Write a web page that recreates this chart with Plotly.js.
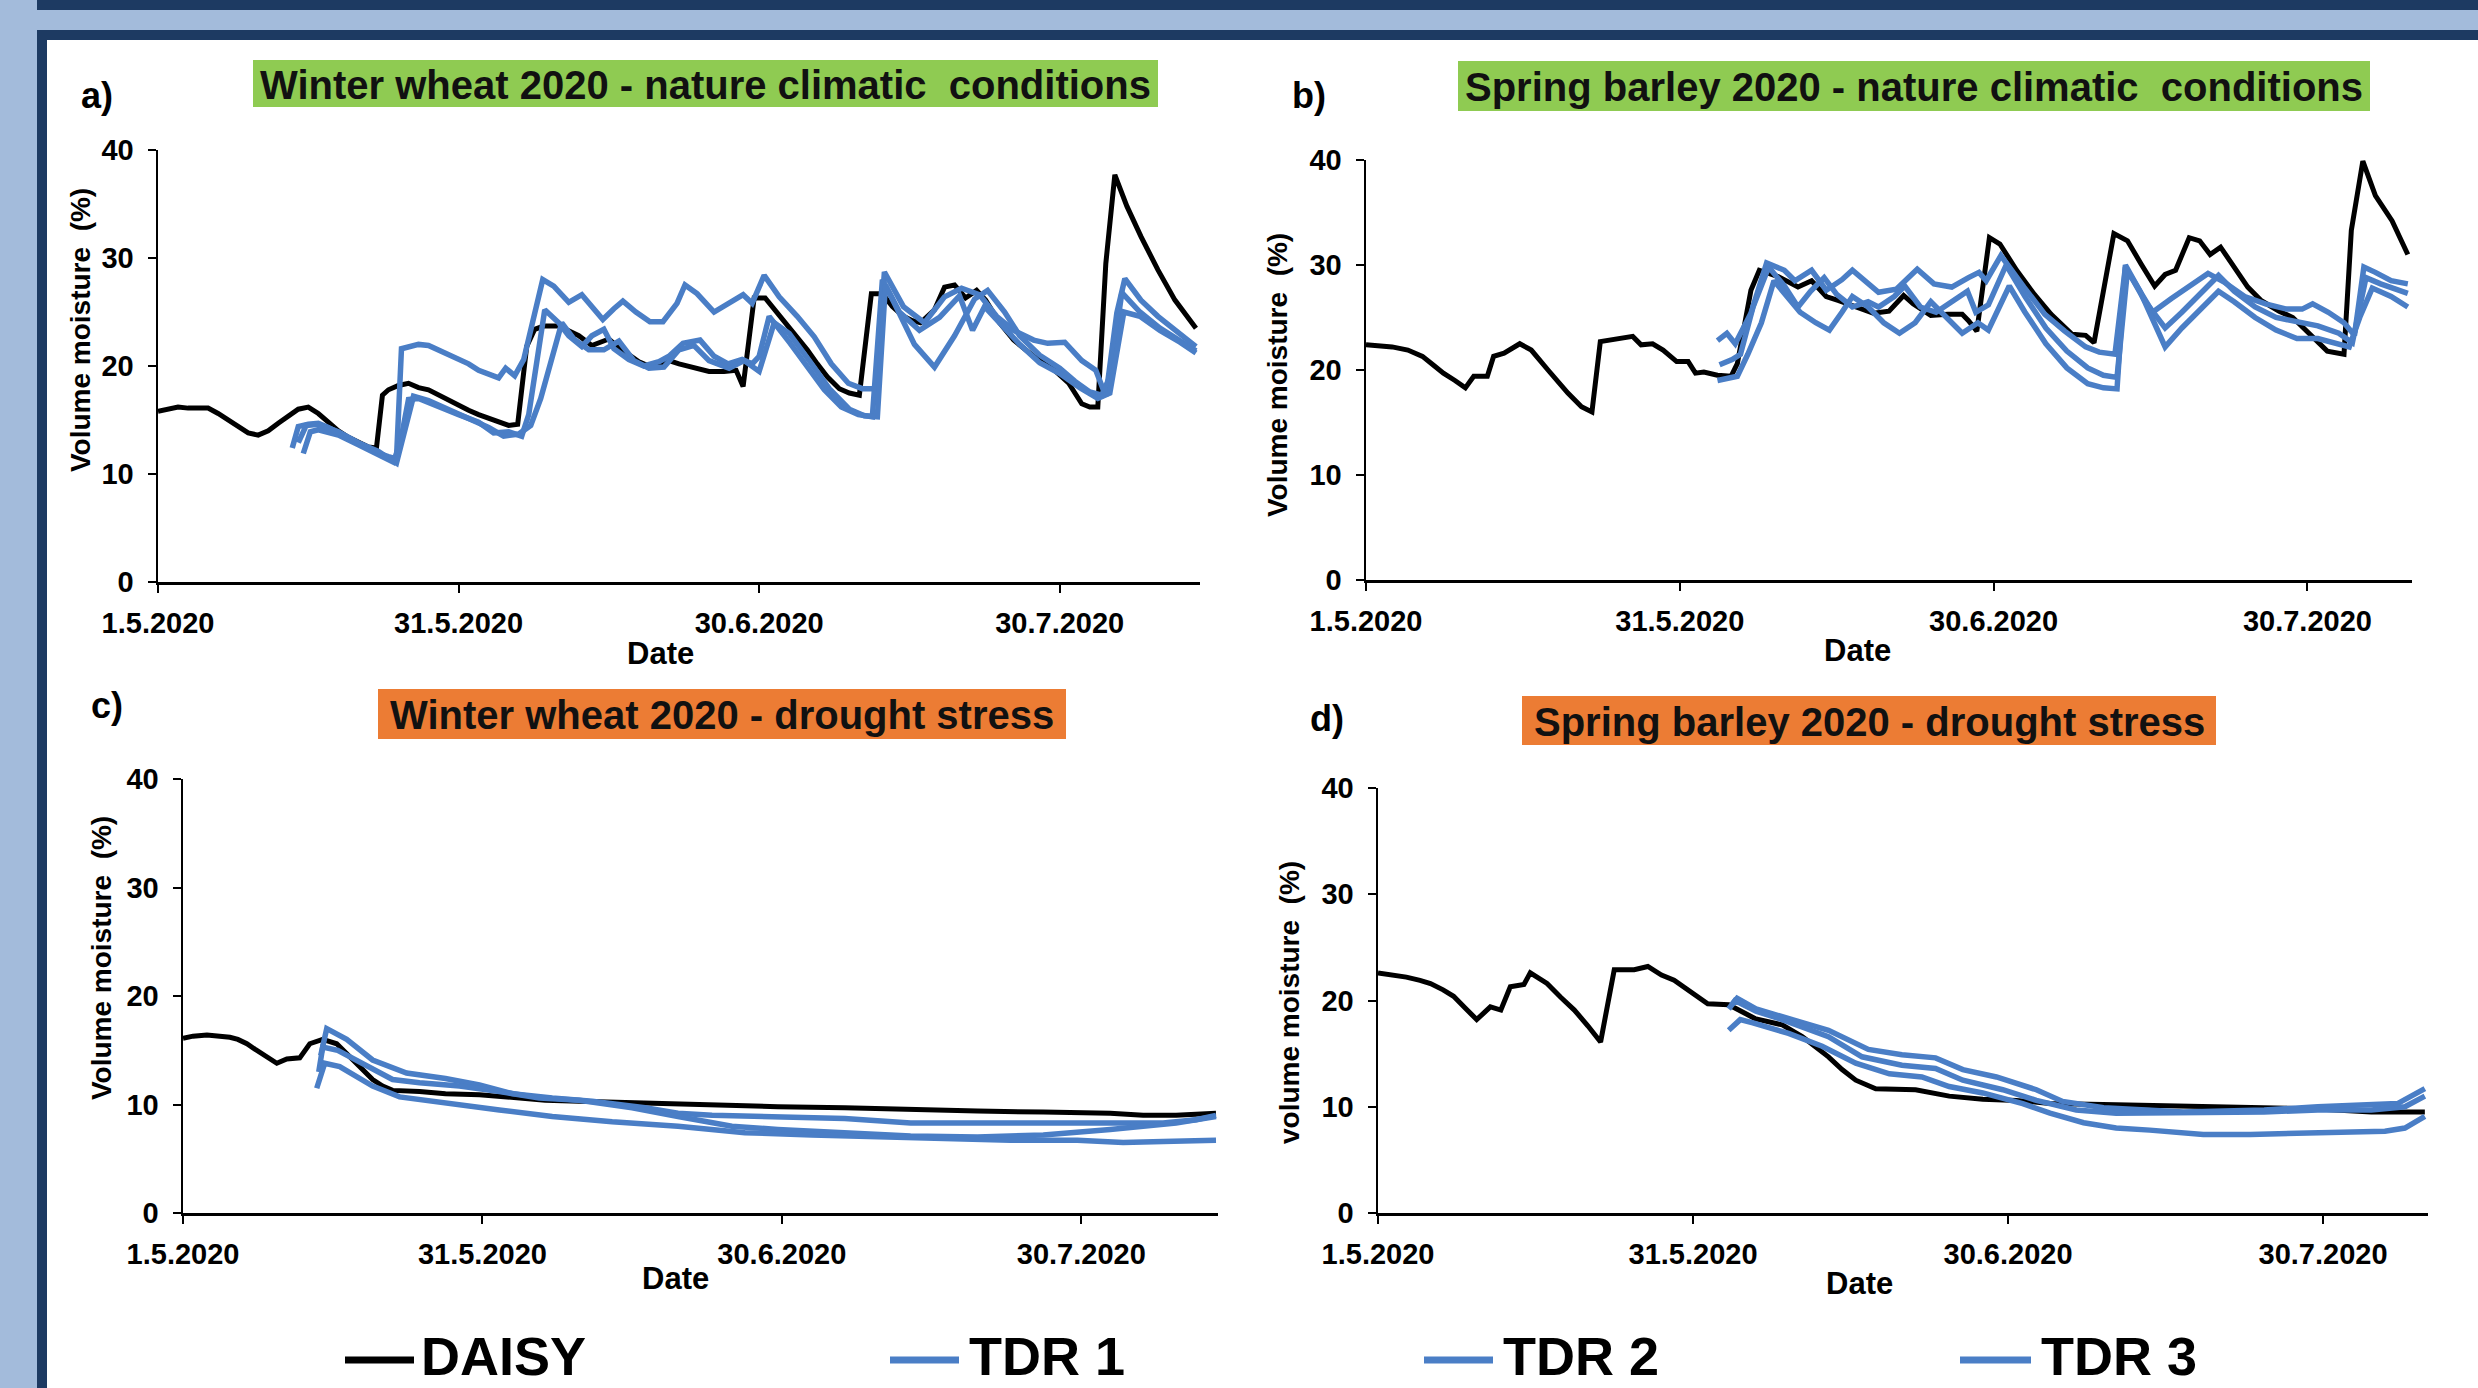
<!DOCTYPE html>
<html>
<head>
<meta charset="utf-8">
<script src="https://cdn.plot.ly/plotly-3.0.1.min.js"></script>
<style>
html,body{margin:0;padding:0;background:#a3bbdb;overflow:hidden;}
#chart{width:2478px;height:1388px;}
</style>
</head>
<body>
<div id="chart"></div>
<script>
// ---------------- DATA ----------------
// x = days since 1.5.2020, y = volume moisture (%)
const tickVals = [0, 30, 60, 90];
const tickText = ['1.5.2020', '31.5.2020', '30.6.2020', '30.7.2020'];
const seriesNames = ['DAISY', 'TDR 1', 'TDR 2', 'TDR 3'];
const seriesColors = ['#000000', '#4a7ec6', '#4a7ec6', '#4a7ec6'];
const panelTitles = ['Winter wheat 2020 - nature climatic  conditions',
                     'Spring barley 2020 - nature climatic  conditions',
                     'Winter wheat 2020 - drought stress',
                     'Spring barley 2020 - drought stress'];
const panelLetters = ['a)', 'b)', 'c)', 'd)'];
const yTitles = ['Volume moisture  (%)', 'Volume moisture  (%)', 'Volume moisture  (%)', 'volume moisture  (%)'];
const xTitle = 'Date';

// a) Winter wheat - nature climatic conditions
const aDaisy = [[0,15.8],[1,16.0],[2,16.2],[3,16.1],[4,16.1],[5,16.1],[6,15.6],[7,15.0],[8,14.4],[9,13.8],[10,13.6],[11,14.0],[12,14.7],[13,15.4],[14,16.0],[15,16.2],[16,15.6],[17,14.8],[18,14.0],[19,13.4],[20,12.9],[21,12.5],[21.8,12.4],[22.4,17.3],[23,17.8],[24,18.2],[25,18.4],[26,18.0],[27,17.8],[28,17.3],[29,16.8],[30,16.3],[31,15.9],[32,15.5],[33,15.2],[34,14.8],[35,14.5],[35.9,14.6],[36.8,21.8],[37.6,23.4],[38.5,23.7],[40,23.7],[41,23.2],[42,22.8],[43.3,21.9],[44.3,22.2],[45,22.5],[46,21.7],[47,21.0],[48,20.4],[49,20.0],[50,20.2],[51,20.5],[52,20.2],[53,20.0],[54,19.7],[55,19.5],[56.5,19.5],[57.7,19.6],[58.4,18.1],[59.5,26.3],[60.6,26.3],[61.5,25.3],[62.7,24.0],[63.8,22.7],[64.8,21.5],[65.8,20.2],[66.8,19.0],[68,17.9],[69,17.5],[70,17.3],[71.2,26.7],[72.3,26.7],[73.3,25.5],[74.4,24.6],[75.3,24.2],[76.1,24.0],[77.5,25.2],[78.5,27.3],[79.5,27.5],[80.6,26.3],[81.7,27.0],[82.6,26.1],[84,24.0],[85.4,22.4],[86.4,21.6],[87.4,20.9],[88.5,20.2],[89.5,19.6],[90.9,18.4],[92.2,16.5],[93,16.2],[93.8,16.2],[94.6,29.5],[95.5,37.7],[96.7,34.8],[98.1,32.0],[99.8,28.9],[101.5,26.1],[103.6,23.5]];
const aTdr1 = [[13.4,12.4],[14.0,14.4],[15,14.6],[16,14.7],[17,14.3],[18,13.8],[19,13.3],[20,12.8],[21,12.3],[22,11.9],[23,11.6],[23.8,11.4],[24.3,21.6],[25,21.8],[26,22.0],[27,21.9],[28,21.5],[29,21.1],[30,20.7],[31,20.2],[32,19.6],[33,19.3],[34,18.9],[34.7,19.8],[35.6,19.1],[36.5,20.6],[38.4,28.0],[39.5,27.4],[41,25.9],[42.3,26.6],[44.4,24.3],[45.5,25.3],[46.4,26.0],[47.7,25.0],[49.1,24.1],[50.4,24.1],[51.8,25.8],[52.6,27.5],[53.8,26.7],[55.5,25.0],[56.9,25.8],[58.4,26.6],[59.3,25.8],[60.5,28.4],[62,26.4],[63.8,24.6],[65.5,22.7],[67.2,20.2],[68.9,18.4],[70.3,17.9],[71.7,17.9],[72.5,28.7],[74.4,25.5],[76.5,24.0],[78.5,26.4],[80.2,27.2],[82,26.6],[83.7,24.6],[85.4,23.3],[87.4,22.4],[88.8,22.1],[90.5,22.2],[92.2,20.5],[93.6,19.6],[94.6,17.2],[95.7,24.9],[96.5,28.1],[98.1,26.1],[99.8,24.6],[101.5,23.3],[103.6,21.8]];
const aTdr2 = [[14.5,11.9],[15.2,13.9],[16,14.1],[17,13.9],[18,13.6],[20,12.7],[22,11.8],[23.5,11.1],[24.2,13.0],[25,16.9],[26,17.0],[27,16.6],[28,16.2],[30,15.5],[32,14.8],[33.5,13.8],[35,13.9],[36.3,13.5],[37,15.5],[38.6,25.2],[40,24.0],[41,22.8],[42.3,21.8],[43.3,22.8],[44.5,23.4],[45.5,21.6],[47,20.6],[48.5,20.0],[50,20.4],[51,20.9],[52.4,22.1],[54.1,22.4],[55.5,20.9],[56.9,20.2],[58.3,20.6],[59.3,20.2],[60,20.9],[61,24.6],[63.1,22.1],[64.8,19.9],[66.5,17.8],[68.2,16.2],[69.9,15.5],[71.3,15.3],[72.3,28.0],[73.5,25.8],[75.5,22.0],[77.5,19.9],[79.5,22.8],[81.5,26.2],[82.8,27.0],[84.5,25.0],[86,22.8],[88,21.0],[90,19.8],[91.5,18.6],[93,17.6],[94.2,17.3],[95,19.0],[96.2,26.8],[98,25.0],[100,23.5],[102,22.4],[103.6,21.4]];
const aTdr3 = [[14.0,12.9],[14.8,14.5],[16,14.6],[18,13.9],[20,12.9],[22,12.1],[23.8,11.0],[24.8,14.5],[25.5,17.2],[27,16.8],[29,16.0],[31,15.2],[33,14.3],[34.5,13.5],[36,13.7],[37.2,14.5],[38.2,17.0],[40.3,24.0],[41.5,22.5],[43,21.5],[44.5,21.5],[46,22.3],[47.5,20.5],[49,19.8],[50.5,19.9],[52,21.5],[53.5,21.9],[55,20.5],[57,19.8],[58.5,20.5],[60,19.5],[61.5,24.0],[63,23.0],[65,20.5],[67,17.9],[69,16.0],[70.5,15.4],[71.8,15.3],[72.6,27.5],[74,25.0],[76,23.3],[78,24.5],[80,26.5],[81.3,23.3],[82.5,25.5],[84,24.0],[86,22.0],[88,20.3],[90,19.3],[92,18.0],[93.8,17.0],[95,17.5],[96.4,25.0],[98,24.6],[100,23.3],[102,22.2],[103.6,21.2]];

// b) Spring barley - nature climatic conditions
const bDaisy = [[0,22.4],[1,22.3],[2.5,22.2],[4,21.9],[5.4,21.3],[6.4,20.5],[7.4,19.7],[8.5,19.0],[9.5,18.3],[10.3,19.4],[11.6,19.4],[12.2,21.3],[13.2,21.6],[14.7,22.5],[15.8,21.9],[17.4,20.0],[19.3,17.8],[20.6,16.5],[21.6,16.0],[22.4,22.7],[23.9,23.0],[25.5,23.2],[26.3,22.4],[27.4,22.5],[28.4,21.9],[29.7,20.8],[30.8,20.8],[31.5,19.7],[32.3,19.8],[33.6,19.5],[34.9,19.4],[35.5,20.6],[36.8,27.6],[37.6,29.5],[39.4,28.9],[40.5,28.3],[41.3,27.9],[42.6,28.5],[44,27.0],[45.2,26.6],[46.8,26.0],[48.5,25.4],[50,25.6],[51.4,27.1],[52.3,26.3],[54,25.2],[55.6,25.3],[57,25.3],[57.6,24.7],[58.4,23.7],[59.6,32.6],[60.6,32.0],[62.2,29.5],[63.9,27.2],[65.5,25.3],[67.5,23.4],[68.8,23.3],[69.6,22.6],[71.5,33.0],[72.8,32.3],[74.1,30.1],[75.4,28.0],[76.4,29.1],[77.4,29.5],[78.7,32.6],[79.7,32.3],[80.7,31.0],[81.7,31.7],[83,29.8],[84.3,27.9],[85.6,26.6],[87.3,25.6],[88.6,25.0],[90.2,23.4],[91.9,21.8],[93.5,21.5],[94.2,33.3],[95.3,39.9],[96.5,36.6],[98.1,34.2],[99.6,31.0]];
const bTdr1 = [[33.6,22.8],[34.5,23.5],[35.3,22.5],[36.8,25.4],[38.3,30.2],[40,29.5],[41,28.5],[42.6,29.5],[44,27.6],[45.5,28.6],[46.5,29.5],[48,28.3],[49,27.4],[50.7,27.7],[52.7,29.6],[54.3,28.2],[56,27.9],[57.6,28.8],[58.6,29.3],[59.3,28.5],[60.7,30.9],[62.9,27.9],[64.9,25.3],[66.8,23.7],[68.8,22.2],[70.1,21.7],[71.6,21.5],[72.6,29.8],[74,27.5],[75.2,25.5],[77,26.8],[79,28.2],[80.5,29.2],[82,28.4],[84,27.0],[86,26.3],[88,25.8],[89.5,25.8],[90.5,26.3],[92,25.5],[93.5,24.5],[94.5,23.3],[95.4,29.8],[96.5,29.3],[98,28.5],[99.6,28.2]];
const bTdr2 = [[33.8,20.5],[35,21.0],[35.8,21.5],[37,26.0],[38.5,29.8],[40,28.0],[41.3,26.0],[42.5,27.5],[43.8,28.8],[45,27.2],[46.5,26.0],[48,26.5],[49,26.0],[50.5,27.0],[51.5,28.0],[53,26.0],[54.5,25.5],[56,26.5],[57.5,27.5],[58.3,25.5],[59.5,26.2],[61.2,30.0],[63,27.0],[65,24.0],[67,21.8],[69,20.2],[70.5,19.5],[71.8,19.3],[72.8,29.5],[74.5,26.5],[76.4,24.0],[78,25.5],[80,27.5],[81.5,29.0],[83,27.5],[85,26.0],[87,25.0],[89,24.6],[91,24.2],[93,23.5],[94.3,22.6],[95.6,28.8],[97,28.2],[99.6,27.3]];
const bTdr3 = [[33.6,19.0],[34.5,19.2],[35.5,19.4],[36.5,21.5],[37.8,24.5],[39,28.5],[40.2,27.0],[41.5,25.5],[43,24.5],[44.3,23.8],[45.5,25.5],[46.5,27.0],[48,26.0],[49.5,24.5],[51,23.5],[52.5,24.5],[54,26.5],[55.5,25.0],[57,23.5],[58.5,24.5],[59.5,23.8],[61.5,28.0],[63,25.5],[65,22.5],[67,20.2],[69,18.7],[70.5,18.3],[71.8,18.2],[72.6,30.0],[74,27.5],[76.4,22.2],[78,24.0],[80,26.0],[81.5,27.5],[83,26.5],[85,25.0],[87,23.8],[89,23.0],[91,23.0],[93,22.5],[94,22.2],[95,25.0],[96.2,27.8],[98,27.0],[99.6,26.0]];

// c) Winter wheat - drought stress
const cDaisy = [[0,16.1],[1,16.3],[2.4,16.4],[3.5,16.3],[4.7,16.2],[5.5,16.0],[6.4,15.6],[7.2,15.1],[8.1,14.6],[9.4,13.8],[10.4,14.2],[11.7,14.3],[12.7,15.6],[14,16.0],[15.4,15.6],[16.2,14.9],[17,14.1],[18,13.2],[19,12.3],[20,11.7],[21,11.3],[23.7,11.2],[26.3,11.0],[29.7,10.9],[33,10.6],[36.3,10.4],[39.7,10.3],[43,10.2],[46.3,10.1],[53,10.0],[59.6,9.8],[66.3,9.7],[72.9,9.5],[79.6,9.4],[86.2,9.3],[92.9,9.2],[96.2,9.0],[99.5,9.0],[103.5,9.2]];
const cTdr1 = [[13.8,14.5],[14.4,17.0],[16.4,16.0],[19,14.1],[22.4,12.9],[26.3,12.4],[29.7,11.8],[33,11.0],[37,10.6],[41,10.3],[46.3,9.7],[49.6,9.2],[53,9.0],[59.6,8.9],[66.3,8.7],[72.9,8.3],[79.6,8.3],[86.2,8.3],[92.9,8.2],[98.2,8.3],[101.5,8.6],[103.5,9.0]];
const cTdr2 = [[13.6,13.0],[14.0,15.3],[15.5,15.0],[18.4,13.5],[21,12.3],[23.7,12.0],[27.7,11.7],[31.7,11.2],[35.7,10.6],[39.7,10.4],[45,9.7],[49.6,8.9],[55,8.0],[59.6,7.7],[66.3,7.4],[72.9,7.1],[79.6,7.0],[86.2,7.2],[92.9,7.7],[99.5,8.3],[103.5,8.9]];
const cTdr3 = [[13.4,11.5],[14.2,13.8],[15.7,13.5],[19,11.7],[21.7,10.7],[26.3,10.1],[31.7,9.5],[37,8.9],[43,8.4],[49.6,8.0],[53,7.7],[56.3,7.4],[63,7.2],[69.6,7.0],[76.2,6.8],[82.9,6.7],[89.6,6.7],[94.2,6.5],[98.2,6.6],[103.5,6.7]];

// d) Spring barley - drought stress
const dDaisy = [[0,22.6],[1.5,22.4],[2.7,22.2],[4,21.9],[5,21.6],[6.2,21.0],[7.2,20.4],[8.3,19.3],[9.4,18.2],[10.7,19.4],[11.7,19.1],[12.6,21.3],[13.9,21.5],[14.5,22.6],[16.1,21.6],[17.4,20.3],[18.7,19.1],[20,17.6],[21.2,16.1],[22.5,22.9],[24.4,22.9],[25.7,23.2],[27,22.4],[28.2,21.9],[29.8,20.8],[31.4,19.7],[33.4,19.6],[34.5,19.0],[35.9,18.3],[38.5,17.7],[40.4,16.6],[41.6,15.7],[42.9,14.7],[44.2,13.5],[45.5,12.5],[47.4,11.7],[51.2,11.6],[54.4,11.0],[57.6,10.7],[60.8,10.6],[64,10.3],[70.3,10.2],[76.7,10.1],[83.1,9.95],[89.5,9.8],[94.6,9.5],[99.7,9.5]];
const dTdr1 = [[33.7,19.6],[34.2,20.2],[36,19.2],[38.5,18.5],[42.9,17.2],[46.7,15.4],[49.9,14.9],[53.1,14.6],[55.7,13.5],[58.9,12.8],[62.7,11.6],[65.2,10.5],[69.1,9.9],[76.7,9.5],[84.4,9.7],[89.5,10.0],[94.6,10.2],[97.1,10.3],[99.7,11.7]];
const dTdr2 = [[33.4,19.2],[34.0,20.0],[36,19.0],[38.5,18.2],[42.9,16.6],[46.1,14.7],[49.9,13.9],[53.1,13.6],[55.7,12.5],[59.5,11.6],[62.7,10.6],[66.5,9.7],[70.3,9.4],[76.7,9.4],[84.4,9.5],[89.5,9.7],[94.6,9.7],[97.8,10.0],[99.7,11.0]];
const dTdr3 = [[33.4,17.2],[34.5,18.2],[35.7,17.9],[39.1,16.9],[42.3,15.7],[45.5,14.1],[48.7,13.1],[51.8,12.8],[54.4,11.9],[57.6,11.3],[61.4,10.3],[64,9.4],[67.2,8.5],[70.3,8.0],[73.5,7.8],[78.6,7.4],[83.1,7.4],[89.5,7.5],[95.9,7.7],[97.8,8.0],[99.7,9.1]];

// ---------------- LAYOUT ----------------
const W = 2478, H = 1388;
const px = v => v / W;
const py = v => 1 - v / H;
const FONT = 'Liberation Sans, Arial, Helvetica, sans-serif';

const panelSeries = [
  [aDaisy, aTdr1, aTdr2, aTdr3],
  [bDaisy, bTdr1, bTdr2, bTdr3],
  [cDaisy, cTdr1, cTdr2, cTdr3],
  [dDaisy, dTdr1, dTdr2, dTdr3]
];

// pixel geometry of each panel
const geom = [
  {x0:158, x1:1200, y0:582, y1:150, xmax:104.0, boxX:[253,1158], boxY:[60,107], boxColor:'#8fcb52',
   letter:[97,96], ytitle:[80,330], xtitle:[660,653]},
  {x0:1366, x1:2412, y0:580, y1:160, xmax:100.0, boxX:[1458,2370], boxY:[61,111], boxColor:'#8fcb52',
   letter:[1309,96], ytitle:[1277,375], xtitle:[1857,650]},
  {x0:183, x1:1218, y0:1213, y1:779, xmax:103.7, boxX:[378,1066], boxY:[689,739], boxColor:'#ec7c34',
   letter:[107,705], ytitle:[101,958], xtitle:[675,1278]},
  {x0:1378, x1:2428, y0:1213, y1:788, xmax:100.0, boxX:[1522,2216], boxY:[696,745], boxColor:'#ec7c34',
   letter:[1327,718], ytitle:[1289,1003], xtitle:[1860,1283]}
];

const traces = [];
const layout = {
  width: W, height: H,
  margin: {l:0, r:0, t:0, b:0},
  paper_bgcolor: '#a3bbdb',
  plot_bgcolor: 'rgba(0,0,0,0)',
  showlegend: false,
  font: {family: FONT, color: '#000'},
  shapes: [],
  annotations: []
};

// frame
layout.shapes.push({type:'rect', xref:'paper', yref:'paper', x0:px(37), x1:1.01, y0:py(10), y1:1.01, fillcolor:'#1d3a62', line:{width:0}, layer:'below'});
layout.shapes.push({type:'rect', xref:'paper', yref:'paper', x0:px(37), x1:1.01, y0:-0.01, y1:py(30), fillcolor:'#1d3a62', line:{width:0}, layer:'below'});
layout.shapes.push({type:'rect', xref:'paper', yref:'paper', x0:px(47), x1:1.01, y0:-0.01, y1:py(40), fillcolor:'#ffffff', line:{width:0}, layer:'below'});

geom.forEach((g, i) => {
  const n = i === 0 ? '' : String(i + 1);
  const xa = 'xaxis' + n, ya = 'yaxis' + n;
  layout[xa] = {
    domain: [px(g.x0), px(g.x1)], range: [0, g.xmax], anchor: 'y' + n,
    showline: true, linecolor: '#000', linewidth: 2.5, mirror: false,
    ticks: 'outside', ticklen: 8, tickwidth: 2, tickcolor: '#000',
    tickvals: tickVals, ticktext: tickText, ticklabelstandoff: 6,
    showgrid: false, zeroline: false, fixedrange: true,
    tickfont: {family: FONT, size: 29, color: '#000', weight: 'bold'}
  };
  layout[ya] = {
    domain: [py(g.y0), py(g.y1)], range: [0, 40], anchor: 'x' + n,
    showline: true, linecolor: '#000', linewidth: 2.5,
    ticks: 'outside', ticklen: 8, tickwidth: 2, tickcolor: '#000',
    dtick: 10, tick0: 0, ticklabelstandoff: 8,
    showgrid: false, zeroline: false, fixedrange: true,
    tickfont: {family: FONT, size: 29, color: '#000', weight: 'bold'}
  };
  panelSeries[i].forEach((s, j) => {
    traces.push({
      type: 'scatter', mode: 'lines', name: seriesNames[j],
      x: s.map(p => p[0]), y: s.map(p => p[1]),
      xaxis: 'x' + n, yaxis: 'y' + n,
      line: {color: seriesColors[j], width: j === 0 ? 5 : 5.5, shape: 'linear'},
      hoverinfo: 'skip', showlegend: false
    });
  });
  // title box
  layout.shapes.push({type:'rect', xref:'paper', yref:'paper',
    x0:px(g.boxX[0]), x1:px(g.boxX[1]), y0:py(g.boxY[1]), y1:py(g.boxY[0]),
    fillcolor:g.boxColor, line:{width:0}, layer:'below'});
  layout.annotations.push({xref:'paper', yref:'paper', showarrow:false,
    x:px((g.boxX[0]+g.boxX[1])/2), y:py((g.boxY[0]+g.boxY[1])/2 + 1), xanchor:'center', yanchor:'middle',
    text:'<b>' + panelTitles[i] + '</b>', font:{family:FONT, size:40, color:'#111'}});
  // letter
  layout.annotations.push({xref:'paper', yref:'paper', showarrow:false,
    x:px(g.letter[0]), y:py(g.letter[1]), xanchor:'center', yanchor:'middle',
    text:'<b>' + panelLetters[i] + '</b>', font:{family:FONT, size:36, color:'#000'}});
  // y title
  layout.annotations.push({xref:'paper', yref:'paper', showarrow:false, textangle:-90,
    x:px(g.ytitle[0]), y:py(g.ytitle[1]), xanchor:'center', yanchor:'middle',
    text:'<b>' + yTitles[i] + '</b>', font:{family:FONT, size:28, color:'#000'}});
  // x title
  layout.annotations.push({xref:'paper', yref:'paper', showarrow:false,
    x:px(g.xtitle[0]), y:py(g.xtitle[1]), xanchor:'center', yanchor:'middle',
    text:'<b>' + xTitle + '</b>', font:{family:FONT, size:31, color:'#000'}});
});

// bottom legend (custom)
const legendPos = [[345, 414, 419], [890, 959, 967], [1424, 1493, 1501], [1960, 2031, 2039]];
const legendY = 1360;
seriesNames.forEach((name, j) => {
  const p = legendPos[j];
  layout.shapes.push({type:'line', xref:'paper', yref:'paper',
    x0:px(p[0]), x1:px(p[1]), y0:py(legendY), y1:py(legendY),
    line:{color:seriesColors[j], width:7}});
  layout.annotations.push({xref:'paper', yref:'paper', showarrow:false,
    x:px(p[2]), y:0, xanchor:'left', yanchor:'bottom',
    text:'<b>' + name + '</b>', font:{family:FONT, size:54, color:'#000'}});
});

Plotly.newPlot('chart', traces, layout, {displayModeBar:false, staticPlot:true});
</script>
</body>
</html>
